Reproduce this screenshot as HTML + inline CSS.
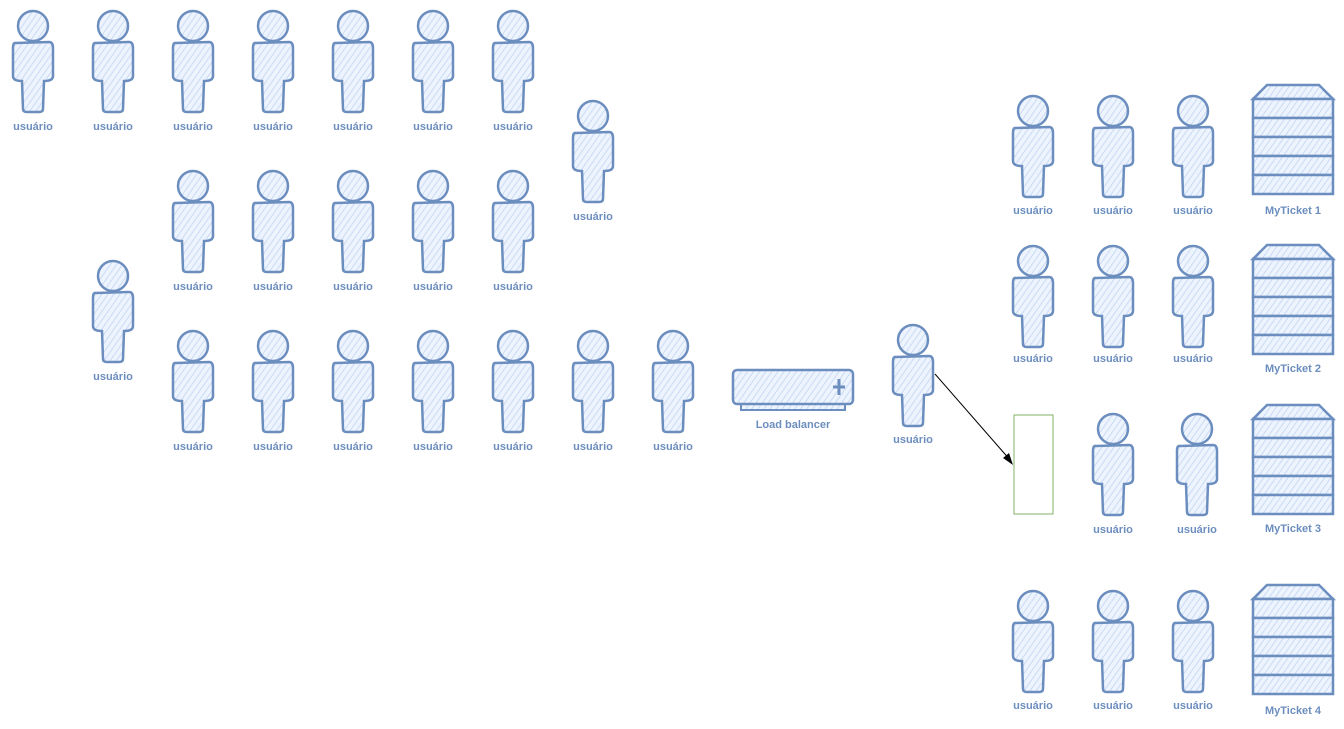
<!DOCTYPE html>
<html><head><meta charset="utf-8"><style>
html,body{margin:0;padding:0;background:#fff;}
svg{display:block}
text{font-family:"Liberation Sans",sans-serif;font-size:11px;fill:#6c8ebf;text-anchor:middle;font-weight:bold}
</style></head><body>
<svg width="1344" height="729" viewBox="0 0 1344 729" xmlns="http://www.w3.org/2000/svg">
<defs>
<pattern id="h" width="5" height="5" patternUnits="userSpaceOnUse" patternTransform="rotate(35)">
<rect width="5" height="5" fill="#eef4fd"/><line x1="0" y1="0" x2="0" y2="5" stroke="#bcd2f3" stroke-width="1.5"/></pattern>
<g id="u">
<circle cx="0" cy="16" r="15" fill="url(#h)" stroke="#6c8ebf" stroke-width="2.5"/>
<path d="M-17,33 Q-20,32 -20,38 L-20,66 Q-20,71 -11,71 L-10,99 Q-10,102 -6,102 L6,102 Q10,102 10,99 L11,71 Q20,71 20,66 L20,38 Q20,32 16,32 Z" fill="url(#h)" stroke="#6c8ebf" stroke-width="2.5"/>
</g>
<g id="s">
<path d="M14,0 L66,0 L80,14 L0,14 Z" fill="url(#h)" stroke="#6c8ebf" stroke-width="2.5"/>
<rect x="0" y="14" width="80" height="19" fill="url(#h)" stroke="#6c8ebf" stroke-width="2.5"/>
<rect x="0" y="33" width="80" height="19" fill="url(#h)" stroke="#6c8ebf" stroke-width="2.5"/>
<rect x="0" y="52" width="80" height="19" fill="url(#h)" stroke="#6c8ebf" stroke-width="2.5"/>
<rect x="0" y="71" width="80" height="19" fill="url(#h)" stroke="#6c8ebf" stroke-width="2.5"/>
<rect x="0" y="90" width="80" height="19" fill="url(#h)" stroke="#6c8ebf" stroke-width="2.5"/>
</g>
</defs>

<use href="#u" x="33" y="10"/><use href="#u" x="113" y="10"/><use href="#u" x="193" y="10"/><use href="#u" x="273" y="10"/><use href="#u" x="353" y="10"/><use href="#u" x="433" y="10"/><use href="#u" x="513" y="10"/>
<text x="33" y="130">usuário</text><text x="113" y="130">usuário</text><text x="193" y="130">usuário</text><text x="273" y="130">usuário</text><text x="353" y="130">usuário</text><text x="433" y="130">usuário</text><text x="513" y="130">usuário</text>
<use href="#u" x="593" y="100"/><text x="593" y="220">usuário</text>
<use href="#u" x="193" y="170"/><use href="#u" x="273" y="170"/><use href="#u" x="353" y="170"/><use href="#u" x="433" y="170"/><use href="#u" x="513" y="170"/>
<text x="193" y="290">usuário</text><text x="273" y="290">usuário</text><text x="353" y="290">usuário</text><text x="433" y="290">usuário</text><text x="513" y="290">usuário</text>
<use href="#u" x="113" y="260"/><text x="113" y="380">usuário</text>
<use href="#u" x="193" y="330"/><use href="#u" x="273" y="330"/><use href="#u" x="353" y="330"/><use href="#u" x="433" y="330"/><use href="#u" x="513" y="330"/><use href="#u" x="593" y="330"/><use href="#u" x="673" y="330"/>
<text x="193" y="450">usuário</text><text x="273" y="450">usuário</text><text x="353" y="450">usuário</text><text x="433" y="450">usuário</text><text x="513" y="450">usuário</text><text x="593" y="450">usuário</text><text x="673" y="450">usuário</text>

<rect x="741" y="404" width="104" height="6" fill="url(#h)" stroke="#6c8ebf" stroke-width="2"/>
<rect x="733" y="370" width="120" height="34" rx="4" fill="url(#h)" stroke="#6c8ebf" stroke-width="2.5"/>
<path d="M839,379 L839,395 M833,387 L845,387" stroke="#6c8ebf" stroke-width="3"/>
<text x="793" y="428">Load balancer</text>

<use href="#u" x="913" y="324"/><text x="913" y="443">usuário</text>
<line x1="935" y1="374" x2="1011" y2="461" stroke="#000" stroke-width="1"/>
<path d="M1013,465 L1003,458 L1009,453 Z" fill="#000"/>
<rect x="1014" y="415" width="39" height="99" fill="none" stroke="#82b366" stroke-width="1"/>

<use href="#u" x="1033" y="95"/><use href="#u" x="1113" y="95"/><use href="#u" x="1193" y="95"/>
<text x="1033" y="214">usuário</text><text x="1113" y="214">usuário</text><text x="1193" y="214">usuário</text>
<use href="#u" x="1033" y="245"/><use href="#u" x="1113" y="245"/><use href="#u" x="1193" y="245"/>
<text x="1033" y="362">usuário</text><text x="1113" y="362">usuário</text><text x="1193" y="362">usuário</text>
<use href="#u" x="1113" y="413"/><use href="#u" x="1197" y="413"/>
<text x="1113" y="533">usuário</text><text x="1197" y="533">usuário</text>
<use href="#u" x="1033" y="590"/><use href="#u" x="1113" y="590"/><use href="#u" x="1193" y="590"/>
<text x="1033" y="709">usuário</text><text x="1113" y="709">usuário</text><text x="1193" y="709">usuário</text>

<use href="#s" x="1253" y="85"/><text x="1293" y="214">MyTicket 1</text>
<use href="#s" x="1253" y="245"/><text x="1293" y="372">MyTicket 2</text>
<use href="#s" x="1253" y="405"/><text x="1293" y="532">MyTicket 3</text>
<use href="#s" x="1253" y="585"/><text x="1293" y="714">MyTicket 4</text>
</svg>
</body></html>
